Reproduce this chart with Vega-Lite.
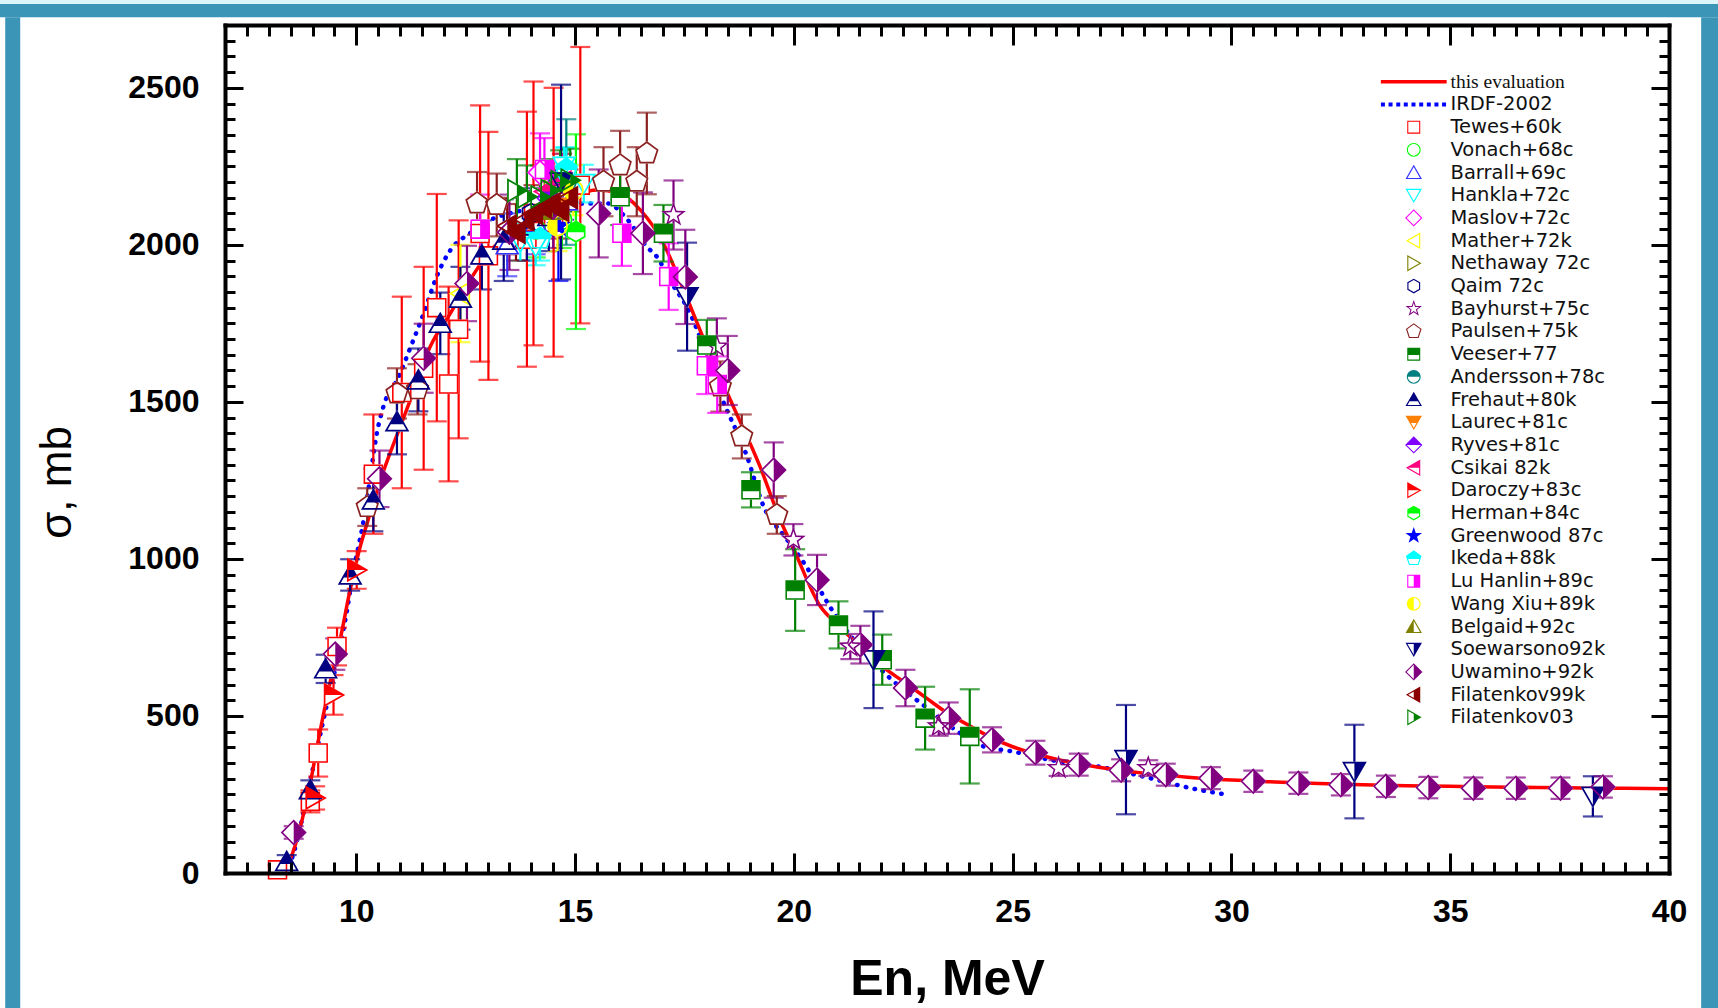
{
  "$schema": "https://vega.github.io/schema/vega-lite/v6.json",
  "width": 1444,
  "height": 848,
  "autosize": {"type": "none"},
  "padding": {"left": 225, "top": 25, "right": 49, "bottom": 135},
  "background": "white",
  "config": {
    "view": {"stroke": null},
    "range": {
      "category": ["#ff0000", "#0000ff", "#ff0000", "#00ff00", "#3333ff", "#00ffff", "#ff00ff", "#ffff00", "#808000", "#000080", "#800080", "#8b2020", "#008000", "#008080", "#000080", "#ff8000", "#8000ff", "#ff0080", "#ff0000", "#00ff00", "#0000ff", "#00ffff", "#ff00ff", "#ffff00", "#808000", "#000080", "#800080", "#8b0000", "#008000"]
    },
    "axis": {
      "domainColor": "black", "domainWidth": 4, "domainCap": "square",
      "tickColor": "black", "tickWidth": 3, "grid": false, "zindex": 1,
      "labelFont": "Liberation Sans", "labelFontSize": 32, "labelFontWeight": "bold", "labelColor": "black",
      "labelFlush": false, "labelOverlap": false,
      "titleColor": "black", "titleFont": "Liberation Sans"
    },
    "legend": {
      "orient": "none", "padding": 0, "symbolSize": 300, "symbolStrokeWidth": 0,
      "labelFont": "DejaVu Sans", "labelFontSize": 19.5, "labelColor": "#111111",
      "labelOffset": 27, "rowPadding": 1.7, "symbolLimit": 60, "labelLimit": 400, "zindex": 1
    }
  },
  "datasets": {
    "evaluation": [
      {"e": 8.2, "v": 0}, {"e": 8.45, "v": 32}, {"e": 8.87, "v": 233}, {"e": 9.18, "v": 456}, {"e": 9.4, "v": 605},
      {"e": 9.63, "v": 742}, {"e": 9.86, "v": 902}, {"e": 10.09, "v": 1039}, {"e": 10.32, "v": 1146}, {"e": 10.6, "v": 1270},
      {"e": 11.0, "v": 1420}, {"e": 11.3, "v": 1530}, {"e": 11.69, "v": 1676}, {"e": 12.15, "v": 1782}, {"e": 12.6, "v": 1888},
      {"e": 13.0, "v": 1970}, {"e": 13.5, "v": 2040}, {"e": 14.0, "v": 2090}, {"e": 14.5, "v": 2130}, {"e": 15.0, "v": 2160},
      {"e": 15.5, "v": 2175}, {"e": 16.0, "v": 2165}, {"e": 16.5, "v": 2110}, {"e": 17.0, "v": 2010}, {"e": 17.5, "v": 1850},
      {"e": 18.0, "v": 1680}, {"e": 18.55, "v": 1506}, {"e": 19.23, "v": 1293}, {"e": 19.69, "v": 1124}, {"e": 20.0, "v": 1030},
      {"e": 20.6, "v": 850}, {"e": 21.0, "v": 790}, {"e": 21.68, "v": 701}, {"e": 22.0, "v": 660}, {"e": 22.5, "v": 610},
      {"e": 23.0, "v": 560}, {"e": 23.5, "v": 510}, {"e": 24.0, "v": 470}, {"e": 24.5, "v": 432}, {"e": 25.0, "v": 402},
      {"e": 26.0, "v": 362}, {"e": 27.0, "v": 336}, {"e": 28.0, "v": 318}, {"e": 29.0, "v": 305}, {"e": 30.0, "v": 296},
      {"e": 31.0, "v": 290}, {"e": 32.0, "v": 285}, {"e": 33.0, "v": 281}, {"e": 34.0, "v": 278}, {"e": 35.0, "v": 276},
      {"e": 36.0, "v": 274}, {"e": 37.0, "v": 272}, {"e": 38.0, "v": 271}, {"e": 39.0, "v": 270}, {"e": 40.0, "v": 268}
    ],
    "irdf": [
      {"e": 8.35, "v": 0}, {"e": 8.41, "v": 10}, {"e": 9.02, "v": 339}, {"e": 9.25, "v": 488}, {"e": 9.63, "v": 721},
      {"e": 9.79, "v": 838}, {"e": 9.94, "v": 965}, {"e": 10.05, "v": 1039}, {"e": 10.17, "v": 1124}, {"e": 10.32, "v": 1262},
      {"e": 10.47, "v": 1400}, {"e": 10.62, "v": 1485}, {"e": 10.97, "v": 1580}, {"e": 11.2, "v": 1660}, {"e": 11.54, "v": 1782},
      {"e": 11.84, "v": 1900}, {"e": 12.15, "v": 1983}, {"e": 12.6, "v": 2037}, {"e": 13.06, "v": 2079}, {"e": 13.5, "v": 2100},
      {"e": 14.0, "v": 2115}, {"e": 14.5, "v": 2125}, {"e": 15.0, "v": 2130}, {"e": 15.34, "v": 2132}, {"e": 15.73, "v": 2132},
      {"e": 16.2, "v": 2080}, {"e": 16.64, "v": 1994}, {"e": 16.87, "v": 1962}, {"e": 17.2, "v": 1880}, {"e": 17.63, "v": 1782},
      {"e": 17.79, "v": 1729}, {"e": 18.3, "v": 1530}, {"e": 18.93, "v": 1326}, {"e": 19.31, "v": 1167}, {"e": 19.8, "v": 1070},
      {"e": 20.26, "v": 981}, {"e": 20.87, "v": 838}, {"e": 21.5, "v": 720}, {"e": 22.2, "v": 620}, {"e": 23.0, "v": 530},
      {"e": 23.7, "v": 455}, {"e": 24.34, "v": 403}, {"e": 25.0, "v": 387}, {"e": 25.82, "v": 361}, {"e": 26.96, "v": 339},
      {"e": 27.99, "v": 307}, {"e": 29.25, "v": 265}, {"e": 29.93, "v": 249}
    ],
    "pts": [
      {"s": "Tewes+60k", "e": 8.2, "v": 10, "d": 15}, {"s": "Tewes+60k", "e": 8.95, "v": 228, "d": 35},
      {"s": "Tewes+60k", "e": 9.13, "v": 382, "d": 75}, {"s": "Tewes+60k", "e": 9.56, "v": 721, "d": 60},
      {"s": "Tewes+60k", "e": 10.39, "v": 1270, "d": 190}, {"s": "Tewes+60k", "e": 11.04, "v": 1530, "d": 305},
      {"s": "Tewes+60k", "e": 11.54, "v": 1607, "d": 323}, {"s": "Tewes+60k", "e": 11.84, "v": 1800, "d": 362},
      {"s": "Tewes+60k", "e": 12.11, "v": 1557, "d": 310}, {"s": "Tewes+60k", "e": 12.34, "v": 1731, "d": 347},
      {"s": "Tewes+60k", "e": 12.83, "v": 2036, "d": 408}, {"s": "Tewes+60k", "e": 13.02, "v": 1965, "d": 395},
      {"s": "Tewes+60k", "e": 13.9, "v": 2018, "d": 406}, {"s": "Tewes+60k", "e": 14.05, "v": 2100, "d": 420},
      {"s": "Tewes+60k", "e": 14.51, "v": 2072, "d": 428}, {"s": "Tewes+60k", "e": 15.12, "v": 2190, "d": 440},
      {"s": "Vonach+68c", "e": 14.1, "v": 2050, "d": 90}, {"s": "Vonach+68c", "e": 14.7, "v": 2080, "d": 90},
      {"s": "Barrall+69c", "e": 13.45, "v": 2000, "d": 100}, {"s": "Barrall+69c", "e": 14.1, "v": 2070, "d": 100},
      {"s": "Barrall+69c", "e": 14.8, "v": 2140, "d": 100},
      {"s": "Hankla+72c", "e": 13.75, "v": 2010, "d": 60}, {"s": "Hankla+72c", "e": 14.1, "v": 1995, "d": 60},
      {"s": "Hankla+72c", "e": 14.75, "v": 2250, "d": 60}, {"s": "Hankla+72c", "e": 15.2, "v": 2195, "d": 60},
      {"s": "Maslov+72c", "e": 14.2, "v": 2230, "d": 125}, {"s": "Maslov+72c", "e": 14.6, "v": 2160, "d": 100},
      {"s": "Mather+72k", "e": 12.38, "v": 1845, "d": 155}, {"s": "Mather+72k", "e": 14.6, "v": 2130, "d": 90},
      {"s": "Nethaway 72c", "e": 14.5, "v": 2170, "d": 70},
      {"s": "Qaim 72c", "e": 14.0, "v": 2100, "d": 80}, {"s": "Qaim 72c", "e": 14.75, "v": 2160, "d": 80},
      {"s": "Bayhurst+75c", "e": 14.7, "v": 2180, "d": 90}, {"s": "Bayhurst+75c", "e": 17.25, "v": 2095, "d": 110},
      {"s": "Bayhurst+75c", "e": 18.24, "v": 1676, "d": 90}, {"s": "Bayhurst+75c", "e": 19.99, "v": 1061, "d": 50},
      {"s": "Bayhurst+75c", "e": 21.29, "v": 721, "d": 40}, {"s": "Bayhurst+75c", "e": 23.31, "v": 467, "d": 30},
      {"s": "Bayhurst+75c", "e": 26.05, "v": 334, "d": 25}, {"s": "Bayhurst+75c", "e": 28.1, "v": 334, "d": 25},
      {"s": "Paulsen+75k", "e": 10.25, "v": 1165, "d": 60}, {"s": "Paulsen+75k", "e": 10.93, "v": 1527, "d": 80},
      {"s": "Paulsen+75k", "e": 11.4, "v": 1540, "d": 80}, {"s": "Paulsen+75k", "e": 12.76, "v": 2132, "d": 100},
      {"s": "Paulsen+75k", "e": 13.21, "v": 2127, "d": 100}, {"s": "Paulsen+75k", "e": 15.65, "v": 2201, "d": 110},
      {"s": "Paulsen+75k", "e": 16.03, "v": 2253, "d": 110}, {"s": "Paulsen+75k", "e": 16.41, "v": 2201, "d": 110},
      {"s": "Paulsen+75k", "e": 16.64, "v": 2291, "d": 130}, {"s": "Paulsen+75k", "e": 18.32, "v": 1549, "d": 80},
      {"s": "Paulsen+75k", "e": 18.81, "v": 1390, "d": 70}, {"s": "Paulsen+75k", "e": 19.61, "v": 1140, "d": 60},
      {"s": "Veeser+77", "e": 14.7, "v": 2200, "d": 90}, {"s": "Veeser+77", "e": 16.03, "v": 2153, "d": 90},
      {"s": "Veeser+77", "e": 17.02, "v": 2037, "d": 90}, {"s": "Veeser+77", "e": 18.01, "v": 1681, "d": 80},
      {"s": "Veeser+77", "e": 19.02, "v": 1220, "d": 56}, {"s": "Veeser+77", "e": 20.03, "v": 901, "d": 130},
      {"s": "Veeser+77", "e": 21.02, "v": 790, "d": 75}, {"s": "Veeser+77", "e": 22.02, "v": 679, "d": 80},
      {"s": "Veeser+77", "e": 23.0, "v": 493, "d": 100}, {"s": "Veeser+77", "e": 24.02, "v": 435, "d": 150},
      {"s": "Andersson+78c", "e": 14.8, "v": 2200, "d": 200},
      {"s": "Frehaut+80k", "e": 8.41, "v": 37, "d": 20}, {"s": "Frehaut+80k", "e": 8.95, "v": 265, "d": 30},
      {"s": "Frehaut+80k", "e": 9.3, "v": 650, "d": 45}, {"s": "Frehaut+80k", "e": 9.86, "v": 949, "d": 50},
      {"s": "Frehaut+80k", "e": 10.39, "v": 1188, "d": 100}, {"s": "Frehaut+80k", "e": 10.93, "v": 1437, "d": 104},
      {"s": "Frehaut+80k", "e": 11.42, "v": 1570, "d": 100}, {"s": "Frehaut+80k", "e": 11.92, "v": 1750, "d": 98},
      {"s": "Frehaut+80k", "e": 12.38, "v": 1830, "d": 100}, {"s": "Frehaut+80k", "e": 12.87, "v": 1968, "d": 110},
      {"s": "Frehaut+80k", "e": 13.37, "v": 2015, "d": 130}, {"s": "Frehaut+80k", "e": 13.9, "v": 2060, "d": 110},
      {"s": "Frehaut+80k", "e": 14.4, "v": 2090, "d": 110},
      {"s": "Laurec+81c", "e": 14.6, "v": 2120, "d": 80},
      {"s": "Ryves+81c", "e": 14.4, "v": 2150, "d": 70},
      {"s": "Csikai 82k", "e": 14.3, "v": 2170, "d": 90}, {"s": "Csikai 82k", "e": 14.7, "v": 2200, "d": 90},
      {"s": "Daroczy+83c", "e": 9.06, "v": 239, "d": 37}, {"s": "Daroczy+83c", "e": 9.48, "v": 567, "d": 63},
      {"s": "Daroczy+83c", "e": 10.01, "v": 965, "d": 60},
      {"s": "Herman+84c", "e": 15.02, "v": 2042, "d": 310},
      {"s": "Greenwood 87c", "e": 14.62, "v": 2060, "d": 175},
      {"s": "Ikeda+88k", "e": 14.2, "v": 2020, "d": 70}, {"s": "Ikeda+88k", "e": 14.8, "v": 2240, "d": 70},
      {"s": "Lu Hanlin+89c", "e": 12.83, "v": 2050, "d": 110}, {"s": "Lu Hanlin+89c", "e": 14.3, "v": 2240, "d": 100},
      {"s": "Lu Hanlin+89c", "e": 16.07, "v": 2037, "d": 104}, {"s": "Lu Hanlin+89c", "e": 17.14, "v": 1899, "d": 106},
      {"s": "Lu Hanlin+89c", "e": 18.0, "v": 1615, "d": 90}, {"s": "Lu Hanlin+89c", "e": 18.25, "v": 1555, "d": 90},
      {"s": "Wang Xiu+89k", "e": 14.6, "v": 2060, "d": 80}, {"s": "Wang Xiu+89k", "e": 14.96, "v": 2174, "d": 80},
      {"s": "Belgaid+92c", "e": 14.5, "v": 2110, "d": 80},
      {"s": "Soewarsono92k", "e": 14.68, "v": 2200, "d": 310}, {"s": "Soewarsono92k", "e": 17.56, "v": 1835, "d": 172},
      {"s": "Soewarsono92k", "e": 21.82, "v": 679, "d": 154}, {"s": "Soewarsono92k", "e": 27.59, "v": 361, "d": 174},
      {"s": "Soewarsono92k", "e": 32.81, "v": 323, "d": 149}, {"s": "Soewarsono92k", "e": 38.26, "v": 244, "d": 64},
      {"s": "Uwamino+92k", "e": 8.57, "v": 129, "d": 20}, {"s": "Uwamino+92k", "e": 9.52, "v": 697, "d": 50},
      {"s": "Uwamino+92k", "e": 10.53, "v": 1255, "d": 90}, {"s": "Uwamino+92k", "e": 11.54, "v": 1639, "d": 110},
      {"s": "Uwamino+92k", "e": 12.53, "v": 1877, "d": 120}, {"s": "Uwamino+92k", "e": 13.5, "v": 2040, "d": 120},
      {"s": "Uwamino+92k", "e": 14.5, "v": 2120, "d": 130}, {"s": "Uwamino+92k", "e": 15.54, "v": 2100, "d": 140},
      {"s": "Uwamino+92k", "e": 16.55, "v": 2037, "d": 130}, {"s": "Uwamino+92k", "e": 17.52, "v": 1898, "d": 150},
      {"s": "Uwamino+92k", "e": 18.49, "v": 1600, "d": 110}, {"s": "Uwamino+92k", "e": 19.54, "v": 1283, "d": 88},
      {"s": "Uwamino+92k", "e": 20.53, "v": 933, "d": 80}, {"s": "Uwamino+92k", "e": 21.52, "v": 727, "d": 60},
      {"s": "Uwamino+92k", "e": 22.55, "v": 589, "d": 58}, {"s": "Uwamino+92k", "e": 23.54, "v": 493, "d": 50},
      {"s": "Uwamino+92k", "e": 24.53, "v": 424, "d": 40}, {"s": "Uwamino+92k", "e": 25.52, "v": 383, "d": 38},
      {"s": "Uwamino+92k", "e": 26.51, "v": 345, "d": 35}, {"s": "Uwamino+92k", "e": 27.48, "v": 327, "d": 35},
      {"s": "Uwamino+92k", "e": 28.5, "v": 313, "d": 35}, {"s": "Uwamino+92k", "e": 29.53, "v": 302, "d": 35},
      {"s": "Uwamino+92k", "e": 30.5, "v": 292, "d": 34}, {"s": "Uwamino+92k", "e": 31.53, "v": 286, "d": 34},
      {"s": "Uwamino+92k", "e": 32.5, "v": 281, "d": 34}, {"s": "Uwamino+92k", "e": 33.53, "v": 276, "d": 34},
      {"s": "Uwamino+92k", "e": 34.5, "v": 272, "d": 34}, {"s": "Uwamino+92k", "e": 35.53, "v": 270, "d": 34},
      {"s": "Uwamino+92k", "e": 36.5, "v": 270, "d": 34}, {"s": "Uwamino+92k", "e": 37.52, "v": 270, "d": 34},
      {"s": "Uwamino+92k", "e": 38.49, "v": 274, "d": 34},
      {"s": "Filatenkov99k", "e": 13.45, "v": 2060, "d": 90}, {"s": "Filatenkov99k", "e": 13.65, "v": 2040, "d": 90},
      {"s": "Filatenkov99k", "e": 13.85, "v": 2080, "d": 90}, {"s": "Filatenkov99k", "e": 14.05, "v": 2100, "d": 90},
      {"s": "Filatenkov99k", "e": 14.25, "v": 2120, "d": 90}, {"s": "Filatenkov99k", "e": 14.45, "v": 2130, "d": 90},
      {"s": "Filatenkov99k", "e": 14.65, "v": 2110, "d": 90}, {"s": "Filatenkov99k", "e": 14.85, "v": 2150, "d": 90},
      {"s": "Filatenkov03", "e": 13.67, "v": 2173, "d": 100}, {"s": "Filatenkov03", "e": 13.9, "v": 2153, "d": 100},
      {"s": "Filatenkov03", "e": 14.2, "v": 2153, "d": 100}, {"s": "Filatenkov03", "e": 14.43, "v": 2173, "d": 100},
      {"s": "Filatenkov03", "e": 14.66, "v": 2201, "d": 100}, {"s": "Filatenkov03", "e": 14.89, "v": 2206, "d": 100}
    ]
  },
  "resolve": {
    "scale": {"color": "independent", "shape": "independent"},
    "axis": {"x": "independent", "y": "independent"}
  },
  "layer": [
    {
      "data": {"values": [{}]},
      "mark": {"type": "rect", "fill": "#3b95b7", "clip": false},
      "encoding": {
        "x": {
          "datum": 1.5, "type": "quantitative",
          "scale": {"domain": [7, 40], "nice": false, "zero": false},
          "axis": {
            "orient": "bottom", "title": "En, MeV", "zindex": 1,
            "values": [7.5, 8, 8.5, 9, 9.5, 10, 10.5, 11, 11.5, 12, 12.5, 13, 13.5, 14, 14.5, 15, 15.5, 16, 16.5, 17, 17.5, 18, 18.5, 19, 19.5, 20, 20.5, 21, 21.5, 22, 22.5, 23, 23.5, 24, 24.5, 25, 25.5, 26, 26.5, 27, 27.5, 28, 28.5, 29, 29.5, 30, 30.5, 31, 31.5, 32, 32.5, 33, 33.5, 34, 34.5, 35, 35.5, 36, 36.5, 37, 37.5, 38, 38.5, 39, 39.5, 40],
            "labelExpr": "datum.value % 5 === 0 ? '' + datum.value : ''",
            "tickSize": {"condition": {"test": "datum.value % 5 === 0", "value": -20}, "value": -11},
            "labelPadding": 43, "labelBaseline": "top",
            "titleFontSize": 50, "titleFontWeight": "bold", "titleY": 121, "titleBaseline": "alphabetic"
          }
        },
        "x2": {"datum": 41.5},
        "y": {
          "datum": 2725, "type": "quantitative",
          "scale": {"domain": [0, 2700], "nice": false, "zero": false},
          "axis": {
            "orient": "left", "title": "σ, mb", "zindex": 1,
            "values": [0, 50, 100, 150, 200, 250, 300, 350, 400, 450, 500, 550, 600, 650, 700, 750, 800, 850, 900, 950, 1000, 1050, 1100, 1150, 1200, 1250, 1300, 1350, 1400, 1450, 1500, 1550, 1600, 1650, 1700, 1750, 1800, 1850, 1900, 1950, 2000, 2050, 2100, 2150, 2200, 2250, 2300, 2350, 2400, 2450, 2500, 2550, 2600, 2650],
            "labelExpr": "datum.value % 500 === 0 ? '' + datum.value : ''",
            "tickSize": {"condition": {"test": "datum.value % 500 === 0", "value": -18}, "value": -10},
            "labelPadding": 44,
            "titleFontSize": 44, "titleFontWeight": "normal", "titleAngle": 270,
            "titleX": -168, "titleY": 457, "titleAlign": "center", "titleBaseline": "middle"
          }
        },
        "y2": {"datum": 2767}
      }
    },
    {
      "data": {"values": [{}]},
      "mark": {"type": "rect", "fill": "#dcf5f8", "clip": false},
      "encoding": {
        "x": {"datum": 1.5, "type": "quantitative", "scale": {"domain": [7, 40], "nice": false, "zero": false}, "axis": null},
        "x2": {"datum": 41.5},
        "y": {"datum": 2767, "type": "quantitative", "scale": {"domain": [0, 2700], "nice": false, "zero": false}, "axis": null},
        "y2": {"datum": 2820}
      }
    },
    {
      "data": {"values": [{}]},
      "mark": {"type": "rect", "fill": "#3b95b7", "clip": false},
      "encoding": {
        "x": {"datum": 1.977, "type": "quantitative", "scale": {"domain": [7, 40], "nice": false, "zero": false}, "axis": null},
        "x2": {"datum": 2.32},
        "y": {"datum": -500, "type": "quantitative", "scale": {"domain": [0, 2700], "nice": false, "zero": false}, "axis": null},
        "y2": {"datum": 2725}
      }
    },
    {
      "data": {"values": [{}]},
      "mark": {"type": "rect", "fill": "#3b95b7", "clip": false},
      "encoding": {
        "x": {"datum": 40.735, "type": "quantitative", "scale": {"domain": [7, 40], "nice": false, "zero": false}, "axis": null},
        "x2": {"datum": 41.5},
        "y": {"datum": -500, "type": "quantitative", "scale": {"domain": [0, 2700], "nice": false, "zero": false}, "axis": null},
        "y2": {"datum": 2725}
      }
    },
    {
      "data": {"name": "irdf"},
      "mark": {"type": "line", "color": "#0000ff", "strokeWidth": 4.5, "strokeDash": [0.5, 8.5], "strokeCap": "round", "interpolate": "monotone"},
      "encoding": {
        "x": {
          "field": "e", "type": "quantitative",
          "scale": {"domain": [7, 40], "nice": false, "zero": false},
          "axis": {
            "orient": "top", "title": null, "labels": false, "zindex": 1,
            "values": [7.5, 8, 8.5, 9, 9.5, 10, 10.5, 11, 11.5, 12, 12.5, 13, 13.5, 14, 14.5, 15, 15.5, 16, 16.5, 17, 17.5, 18, 18.5, 19, 19.5, 20, 20.5, 21, 21.5, 22, 22.5, 23, 23.5, 24, 24.5, 25, 25.5, 26, 26.5, 27, 27.5, 28, 28.5, 29, 29.5, 30, 30.5, 31, 31.5, 32, 32.5, 33, 33.5, 34, 34.5, 35, 35.5, 36, 36.5, 37, 37.5, 38, 38.5, 39, 39.5],
            "tickSize": {"condition": {"test": "datum.value % 5 === 0", "value": -20}, "value": -11}
          }
        },
        "y": {
          "field": "v", "type": "quantitative",
          "scale": {"domain": [0, 2700], "nice": false, "zero": false},
          "axis": {
            "orient": "right", "title": null, "labels": false, "zindex": 1,
            "values": [50, 100, 150, 200, 250, 300, 350, 400, 450, 500, 550, 600, 650, 700, 750, 800, 850, 900, 950, 1000, 1050, 1100, 1150, 1200, 1250, 1300, 1350, 1400, 1450, 1500, 1550, 1600, 1650, 1700, 1750, 1800, 1850, 1900, 1950, 2000, 2050, 2100, 2150, 2200, 2250, 2300, 2350, 2400, 2450, 2500, 2550, 2600, 2650],
            "tickSize": {"condition": {"test": "datum.value % 500 === 0", "value": -18}, "value": -10}
          }
        }
      }
    },
    {
      "data": {"name": "evaluation"},
      "mark": {"type": "line", "color": "#ff0000", "strokeWidth": 3.5, "interpolate": "monotone"},
      "encoding": {
        "x": {"field": "e", "type": "quantitative", "scale": {"domain": [7, 40], "nice": false, "zero": false}, "axis": null},
        "y": {"field": "v", "type": "quantitative", "scale": {"domain": [0, 2700], "nice": false, "zero": false}, "axis": null}
      }
    },
    {
      "data": {"name": "pts"},
      "mark": {"type": "errorbar", "ticks": true, "size": 20, "thickness": 2.2},
      "encoding": {
        "x": {"field": "e", "type": "quantitative", "scale": {"domain": [7, 40], "nice": false, "zero": false}, "axis": null},
        "y": {"field": "v", "type": "quantitative", "scale": {"domain": [0, 2700], "nice": false, "zero": false}, "axis": null},
        "yError": {"field": "d"},
        "color": {
          "field": "s", "type": "nominal", "legend": null,
          "scale": {"domain": ["this evaluation", "IRDF-2002", "Tewes+60k", "Vonach+68c", "Barrall+69c", "Hankla+72c", "Maslov+72c", "Mather+72k", "Nethaway 72c", "Qaim 72c", "Bayhurst+75c", "Paulsen+75k", "Veeser+77", "Andersson+78c", "Frehaut+80k", "Laurec+81c", "Ryves+81c", "Csikai 82k", "Daroczy+83c", "Herman+84c", "Greenwood 87c", "Ikeda+88k", "Lu Hanlin+89c", "Wang Xiu+89k", "Belgaid+92c", "Soewarsono92k", "Uwamino+92k", "Filatenkov99k", "Filatenkov03"]}
        }
      }
    },
    {
      "data": {"name": "pts"},
      "mark": {"type": "point", "filled": true, "fill": "white", "opacity": 1, "strokeWidth": 0, "size": 676},
      "encoding": {
        "x": {"field": "e", "type": "quantitative", "scale": {"domain": [7, 40], "nice": false, "zero": false}, "axis": null},
        "y": {"field": "v", "type": "quantitative", "scale": {"domain": [0, 2700], "nice": false, "zero": false}, "axis": null},
        "shape": {
          "field": "s", "type": "nominal", "legend": null,
          "scale": {
            "domain": ["this evaluation", "IRDF-2002", "Tewes+60k", "Vonach+68c", "Barrall+69c", "Hankla+72c", "Maslov+72c", "Mather+72k", "Nethaway 72c", "Qaim 72c", "Bayhurst+75c", "Paulsen+75k", "Veeser+77", "Andersson+78c", "Frehaut+80k", "Laurec+81c", "Ryves+81c", "Csikai 82k", "Daroczy+83c", "Herman+84c", "Greenwood 87c", "Ikeda+88k", "Lu Hanlin+89c", "Wang Xiu+89k", "Belgaid+92c", "Soewarsono92k", "Uwamino+92k", "Filatenkov99k", "Filatenkov03"],
            "range": [
              "circle", "circle",
              "M-0.75,-0.75H0.75V0.75H-0.75Z",
              "M-0.8,0A0.8,0.8 0 1,1 0.8,0A0.8,0.8 0 1,1 -0.8,0Z",
              "M0,-0.9L0.95,0.75H-0.95Z",
              "M-0.95,-0.75H0.95L0,0.9Z",
              "M0,-1L1,0L0,1L-1,0Z",
              "M-0.9,0L0.75,-0.95V0.95Z",
              "M0.9,0L-0.75,0.95V-0.95Z",
              "M0,-0.85L0.74,-0.43V0.43L0,0.85L-0.74,0.43V-0.43Z",
              "M0,-1L0.235,-0.324L0.951,-0.309L0.38,0.124L0.588,0.809L0,0.4L-0.588,0.809L-0.38,0.124L-0.951,-0.309L-0.235,-0.324Z",
              "M0,-0.95L0.904,-0.294L0.558,0.769H-0.558L-0.904,-0.294Z",
              "M-0.75,-0.75H0.75V0.75H-0.75Z",
              "M-0.8,0A0.8,0.8 0 1,1 0.8,0A0.8,0.8 0 1,1 -0.8,0Z",
              "M0,-0.9L0.95,0.75H-0.95Z",
              "M-0.95,-0.75H0.95L0,0.9Z",
              "M0,-1L1,0L0,1L-1,0Z",
              "M-0.9,0L0.75,-0.95V0.95Z",
              "M0.9,0L-0.75,0.95V-0.95Z",
              "M0,-0.85L0.74,-0.43V0.43L0,0.85L-0.74,0.43V-0.43Z",
              "M0,-1L0.235,-0.324L0.951,-0.309L0.38,0.124L0.588,0.809L0,0.4L-0.588,0.809L-0.38,0.124L-0.951,-0.309L-0.235,-0.324Z",
              "M0,-0.95L0.904,-0.294L0.558,0.769H-0.558L-0.904,-0.294Z",
              "M-0.75,-0.75H0.75V0.75H-0.75Z",
              "M-0.8,0A0.8,0.8 0 1,1 0.8,0A0.8,0.8 0 1,1 -0.8,0Z",
              "M0,-0.9L0.95,0.75H-0.95Z",
              "M-0.95,-0.75H0.95L0,0.9Z",
              "M0,-1L1,0L0,1L-1,0Z",
              "M-0.9,0L0.75,-0.95V0.95Z",
              "M0.9,0L-0.75,0.95V-0.95Z"
            ]
          }
        }
      }
    },
    {
      "data": {"name": "pts"},
      "mark": {"type": "point", "filled": true, "opacity": 1, "strokeWidth": 0, "size": 676},
      "encoding": {
        "x": {"field": "e", "type": "quantitative", "scale": {"domain": [7, 40], "nice": false, "zero": false}, "axis": null},
        "y": {"field": "v", "type": "quantitative", "scale": {"domain": [0, 2700], "nice": false, "zero": false}, "axis": null},
        "color": {
          "field": "s", "type": "nominal",
          "scale": {"domain": ["this evaluation", "IRDF-2002", "Tewes+60k", "Vonach+68c", "Barrall+69c", "Hankla+72c", "Maslov+72c", "Mather+72k", "Nethaway 72c", "Qaim 72c", "Bayhurst+75c", "Paulsen+75k", "Veeser+77", "Andersson+78c", "Frehaut+80k", "Laurec+81c", "Ryves+81c", "Csikai 82k", "Daroczy+83c", "Herman+84c", "Greenwood 87c", "Ikeda+88k", "Lu Hanlin+89c", "Wang Xiu+89k", "Belgaid+92c", "Soewarsono92k", "Uwamino+92k", "Filatenkov99k", "Filatenkov03"]},
          "legend": {
            "title": null, "legendX": 1179, "legendY": 47, "rowPadding": 1.7,
            "labelFont": {"expr": "datum.label === 'this evaluation' ? 'Liberation Serif' : 'DejaVu Sans'"}
          }
        },
        "shape": {
          "field": "s", "type": "nominal",
          "legend": {"title": null, "legendX": 1179, "legendY": 47, "rowPadding": 1.7},
          "scale": {
            "domain": ["this evaluation", "IRDF-2002", "Tewes+60k", "Vonach+68c", "Barrall+69c", "Hankla+72c", "Maslov+72c", "Mather+72k", "Nethaway 72c", "Qaim 72c", "Bayhurst+75c", "Paulsen+75k", "Veeser+77", "Andersson+78c", "Frehaut+80k", "Laurec+81c", "Ryves+81c", "Csikai 82k", "Daroczy+83c", "Herman+84c", "Greenwood 87c", "Ikeda+88k", "Lu Hanlin+89c", "Wang Xiu+89k", "Belgaid+92c", "Soewarsono92k", "Uwamino+92k", "Filatenkov99k", "Filatenkov03"],
            "range": [
              "M-3.8,-0.2H3.8V0.2H-3.8Z",
              "M-3.79,-0.23h0.46v0.46h-0.46Z M-2.91,-0.23h0.46v0.46h-0.46Z M-2.02,-0.23h0.46v0.46h-0.46Z M-1.15,-0.23h0.46v0.46h-0.46Z M-0.26,-0.23h0.46v0.46h-0.46Z M0.63,-0.23h0.46v0.46h-0.46Z M1.51,-0.23h0.46v0.46h-0.46Z M2.39,-0.23h0.46v0.46h-0.46Z M3.27,-0.23h0.46v0.46h-0.46Z",
              "M-0.75,-0.75H0.75V0.75H-0.75Z M-0.63,-0.63V0.63H0.63V-0.63Z",
              "M-0.8,0A0.8,0.8 0 1,1 0.8,0A0.8,0.8 0 1,1 -0.8,0Z M-0.67,0A0.67,0.67 0 1,0 0.67,0A0.67,0.67 0 1,0 -0.67,0Z",
              "M0,-0.9L0.95,0.75H-0.95Z M0,-0.64L-0.72,0.62H0.72Z",
              "M-0.95,-0.75H0.95L0,0.9Z M-0.72,-0.62L0,0.64L0.72,-0.62Z",
              "M0,-1L1,0L0,1L-1,0Z M0,-0.82L-0.82,0L0,0.82L0.82,0Z",
              "M-0.9,0L0.75,-0.95V0.95Z M-0.64,0L0.62,0.72V-0.72Z",
              "M0.9,0L-0.75,0.95V-0.95Z M0.64,0L-0.62,-0.72V0.72Z",
              "M0,-0.85L0.74,-0.43V0.43L0,0.85L-0.74,0.43V-0.43Z M0,-0.7L-0.61,-0.35V0.35L0,0.7L0.61,0.35V-0.35Z",
              "M0,-1L0.235,-0.324L0.951,-0.309L0.38,0.124L0.588,0.809L0,0.4L-0.588,0.809L-0.38,0.124L-0.951,-0.309L-0.235,-0.324Z M0,-0.65L-0.153,-0.211L-0.618,-0.201L-0.247,0.081L-0.382,0.526L0,0.26L0.382,0.526L0.247,0.081L0.618,-0.201L0.153,-0.211Z",
              "M0,-0.95L0.904,-0.294L0.558,0.769H-0.558L-0.904,-0.294Z M0,-0.79L-0.751,-0.244L-0.464,0.639H0.464L0.751,-0.244Z",
              "M-0.75,-0.75H0.75V0.75H-0.75Z M-0.63,-0.63V0.63H0.63V-0.63Z M-0.75,-0.75H0.75V0.1H-0.75Z",
              "M-0.8,0A0.8,0.8 0 1,1 0.8,0A0.8,0.8 0 1,1 -0.8,0Z M-0.67,0A0.67,0.67 0 1,0 0.67,0A0.67,0.67 0 1,0 -0.67,0Z M-0.8,0A0.8,0.8 0 0,1 0.8,0Z",
              "M0,-0.9L0.95,0.75H-0.95Z M0,-0.64L-0.72,0.62H0.72Z M0,-0.9L0.633,0.2H-0.633Z",
              "M-0.95,-0.75H0.95L0,0.9Z M-0.72,-0.62L0,0.64L0.72,-0.62Z M-0.95,-0.75H0.95L0.461,0.1H-0.461Z",
              "M0,-1L1,0L0,1L-1,0Z M0,-0.82L-0.82,0L0,0.82L0.82,0Z M0,-1L1,0H-1Z",
              "M-0.9,0L0.75,-0.95V0.95Z M-0.64,0L0.62,0.72V-0.72Z M-0.9,0L0.75,-0.95V0Z",
              "M0.9,0L-0.75,0.95V-0.95Z M0.64,0L-0.62,-0.72V0.72Z M-0.75,-0.95L0.9,0H-0.75Z",
              "M0,-0.85L0.74,-0.43V0.43L0,0.85L-0.74,0.43V-0.43Z M0,-0.7L-0.61,-0.35V0.35L0,0.7L0.61,0.35V-0.35Z M0,-0.85L0.74,-0.43V0.05H-0.74V-0.43Z",
              "M0,-1L0.235,-0.324L0.951,-0.309L0.38,0.124L0.588,0.809L0,0.4L-0.588,0.809L-0.38,0.124L-0.951,-0.309L-0.235,-0.324Z",
              "M0,-0.95L0.904,-0.294L0.558,0.769H-0.558L-0.904,-0.294Z M0,-0.79L-0.751,-0.244L-0.464,0.639H0.464L0.751,-0.244Z M0,-0.95L0.904,-0.294L0.792,0.05H-0.792L-0.904,-0.294Z",
              "M-0.75,-0.75H0.75V0.75H-0.75Z M-0.63,-0.63V0.63H0.63V-0.63Z M0,-0.75H0.75V0.75H0Z",
              "M-0.8,0A0.8,0.8 0 1,1 0.8,0A0.8,0.8 0 1,1 -0.8,0Z M-0.67,0A0.67,0.67 0 1,0 0.67,0A0.67,0.67 0 1,0 -0.67,0Z M0,0.8A0.8,0.8 0 0,1 0,-0.8Z",
              "M0,-0.9L0.95,0.75H-0.95Z M0,-0.64L-0.72,0.62H0.72Z M0,-0.9V0.75H-0.95Z",
              "M-0.95,-0.75H0.95L0,0.9Z M-0.72,-0.62L0,0.64L0.72,-0.62Z M0,-0.75H0.95L0,0.9Z",
              "M0,-1L1,0L0,1L-1,0Z M0,-0.82L-0.82,0L0,0.82L0.82,0Z M0,-1L1,0L0,1Z",
              "M-0.9,0L0.75,-0.95V0.95Z M-0.64,0L0.62,0.72V-0.72Z M0,-0.518L0.75,-0.95V0.95L0,0.518Z",
              "M0.9,0L-0.75,0.95V-0.95Z M0.64,0L-0.62,-0.72V0.72Z M0,-0.518L0.9,0L0,0.518Z"
            ]
          }
        }
      }
    }
  ]
}
